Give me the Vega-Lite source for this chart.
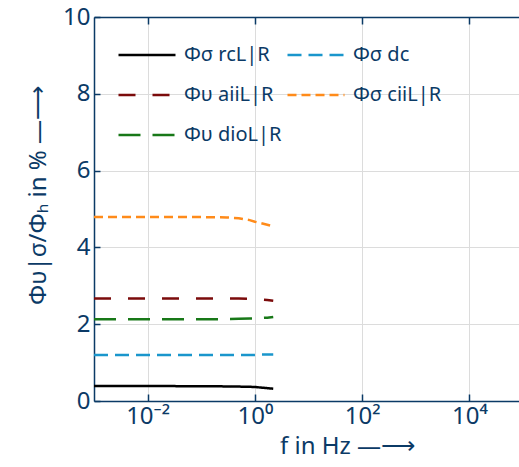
{
  "$schema": "https://vega.github.io/schema/vega-lite/v6.json",
  "width": 429,
  "height": 384,
  "autosize": {"type": "none"},
  "padding": {"left": 94, "top": 17, "right": 0, "bottom": 66},
  "config": {
    "view": {"stroke": null},
    "font": "Noto Sans",
    "axis": {
      "domainColor": "#0b3a66",
      "domainWidth": 1.5,
      "tickColor": "#0b3a66",
      "tickWidth": 1.5,
      "tickSize": -6,
      "gridColor": "#dcdcdc",
      "gridWidth": 1,
      "labelColor": "#0b3a66",
      "labelFont": "Noto Sans",
      "labelFontSize": 24,
      "titleColor": "#0b3a66",
      "titleFont": "Noto Sans",
      "titleFontSize": 24,
      "titleFontWeight": "normal"
    }
  },
  "data": {
    "values": [
      {"series": "Φσ rcL|R", "f": 0.001, "phi": 0.39},
      {"series": "Φσ rcL|R", "f": 0.01, "phi": 0.39},
      {"series": "Φσ rcL|R", "f": 0.1, "phi": 0.385},
      {"series": "Φσ rcL|R", "f": 0.3, "phi": 0.38},
      {"series": "Φσ rcL|R", "f": 0.5, "phi": 0.375},
      {"series": "Φσ rcL|R", "f": 0.8, "phi": 0.37},
      {"series": "Φσ rcL|R", "f": 1, "phi": 0.365},
      {"series": "Φσ rcL|R", "f": 1.3, "phi": 0.35},
      {"series": "Φσ rcL|R", "f": 1.7, "phi": 0.335},
      {"series": "Φσ rcL|R", "f": 2.2, "phi": 0.32},
      {"series": "Φσ dc", "f": 0.001, "phi": 1.2},
      {"series": "Φσ dc", "f": 0.01, "phi": 1.2},
      {"series": "Φσ dc", "f": 0.1, "phi": 1.2},
      {"series": "Φσ dc", "f": 0.3, "phi": 1.2},
      {"series": "Φσ dc", "f": 0.5, "phi": 1.2},
      {"series": "Φσ dc", "f": 0.8, "phi": 1.2},
      {"series": "Φσ dc", "f": 1, "phi": 1.2},
      {"series": "Φσ dc", "f": 1.3, "phi": 1.21},
      {"series": "Φσ dc", "f": 1.7, "phi": 1.21},
      {"series": "Φσ dc", "f": 2.2, "phi": 1.21},
      {"series": "Φυ aiiL|R", "f": 0.001, "phi": 2.67},
      {"series": "Φυ aiiL|R", "f": 0.01, "phi": 2.67},
      {"series": "Φυ aiiL|R", "f": 0.1, "phi": 2.67},
      {"series": "Φυ aiiL|R", "f": 0.3, "phi": 2.67},
      {"series": "Φυ aiiL|R", "f": 0.5, "phi": 2.67},
      {"series": "Φυ aiiL|R", "f": 0.8, "phi": 2.66},
      {"series": "Φυ aiiL|R", "f": 1, "phi": 2.65},
      {"series": "Φυ aiiL|R", "f": 1.3, "phi": 2.64},
      {"series": "Φυ aiiL|R", "f": 1.7, "phi": 2.63},
      {"series": "Φυ aiiL|R", "f": 2.2, "phi": 2.61},
      {"series": "Φσ ciiL|R", "f": 0.001, "phi": 4.79},
      {"series": "Φσ ciiL|R", "f": 0.01, "phi": 4.79},
      {"series": "Φσ ciiL|R", "f": 0.1, "phi": 4.79},
      {"series": "Φσ ciiL|R", "f": 0.3, "phi": 4.78},
      {"series": "Φσ ciiL|R", "f": 0.5, "phi": 4.76},
      {"series": "Φσ ciiL|R", "f": 0.8, "phi": 4.71},
      {"series": "Φσ ciiL|R", "f": 1, "phi": 4.67},
      {"series": "Φσ ciiL|R", "f": 1.3, "phi": 4.63},
      {"series": "Φσ ciiL|R", "f": 1.7, "phi": 4.59},
      {"series": "Φσ ciiL|R", "f": 2.2, "phi": 4.55},
      {"series": "Φυ dioL|R", "f": 0.001, "phi": 2.13},
      {"series": "Φυ dioL|R", "f": 0.01, "phi": 2.13},
      {"series": "Φυ dioL|R", "f": 0.1, "phi": 2.13},
      {"series": "Φυ dioL|R", "f": 0.3, "phi": 2.13},
      {"series": "Φυ dioL|R", "f": 0.5, "phi": 2.14},
      {"series": "Φυ dioL|R", "f": 0.8, "phi": 2.15},
      {"series": "Φυ dioL|R", "f": 1, "phi": 2.15},
      {"series": "Φυ dioL|R", "f": 1.3, "phi": 2.16},
      {"series": "Φυ dioL|R", "f": 1.7, "phi": 2.17},
      {"series": "Φυ dioL|R", "f": 2.2, "phi": 2.19}
    ]
  },
  "resolve": {"axis": {"x": "independent"}},
  "layer": [
    {
      "mark": {"type": "line", "strokeWidth": 2.5, "clip": true},
      "encoding": {
        "x": {
          "field": "f",
          "type": "quantitative",
          "scale": {"type": "log", "domain": [0.001, 100000]},
          "axis": {
            "orient": "bottom",
            "values": [0.01, 1, 100, 10000],
            "grid": true,
            "tickSize": -7,
            "labelPadding": 10,
            "labelExpr": "datum.value == 0.01 ? '10⁻²' : datum.value == 1 ? '10⁰' : datum.value == 100 ? '10²' : datum.value == 10000 ? '10⁴' : ''",
            "title": "f in Hz —⟶",
            "titleX": 253,
            "titlePadding": 6
          }
        },
        "y": {
          "field": "phi",
          "type": "quantitative",
          "scale": {"domain": [0, 10]},
          "axis": {
            "values": [0, 2, 4, 6, 8, 10],
            "grid": true,
            "tickSize": -6,
            "labelPadding": 10,
            "title": "Φυ|σ/Φₕ in %  —⟶",
            "titleY": 178,
            "titlePadding": 12
          }
        },
        "color": {
          "field": "series",
          "type": "nominal",
          "scale": {
            "domain": ["Φσ rcL|R", "Φυ aiiL|R", "Φυ dioL|R", "Φσ dc", "Φσ ciiL|R"],
            "range": ["#000000", "#7b0b0b", "#187818", "#1a96cc", "#ff8b1a"]
          },
          "legend": {
            "title": null,
            "orient": "none",
            "legendX": 23,
            "legendY": 8,
            "columns": 2,
            "columnPadding": 0,
            "rowPadding": -16,
            "padding": 0,
            "symbolType": "stroke",
            "symbolSize": 3249,
            "symbolStrokeWidth": 2.5,
            "labelFont": "Noto Sans",
            "labelFontSize": 20,
            "labelColor": "#0b3a66",
            "labelOffset": 7,
            "labelLimit": 300
          }
        },
        "strokeDash": {
          "field": "series",
          "type": "nominal",
          "scale": {
            "domain": ["Φσ rcL|R", "Φυ aiiL|R", "Φυ dioL|R", "Φσ dc", "Φσ ciiL|R"],
            "range": [[1, 0], [17, 17], [22, 12], [14, 7], [9, 5]]
          },
          "legend": {
            "title": null,
            "orient": "none",
            "legendX": 23,
            "legendY": 8,
            "columns": 2,
            "columnPadding": 0,
            "rowPadding": -16,
            "padding": 0,
            "symbolType": "stroke",
            "symbolSize": 3249,
            "symbolStrokeWidth": 2.5,
            "labelFont": "Noto Sans",
            "labelFontSize": 20,
            "labelColor": "#0b3a66",
            "labelOffset": 7,
            "labelLimit": 300
          }
        }
      }
    },
    {
      "mark": {"type": "point", "opacity": 0},
      "encoding": {
        "x": {
          "field": "f",
          "type": "quantitative",
          "scale": {"type": "log", "domain": [0.001, 100000]},
          "axis": {
            "orient": "top",
            "values": [0.01, 1, 100, 10000],
            "labels": false,
            "grid": false,
            "tickSize": -7,
            "title": null
          }
        }
      }
    }
  ]
}
